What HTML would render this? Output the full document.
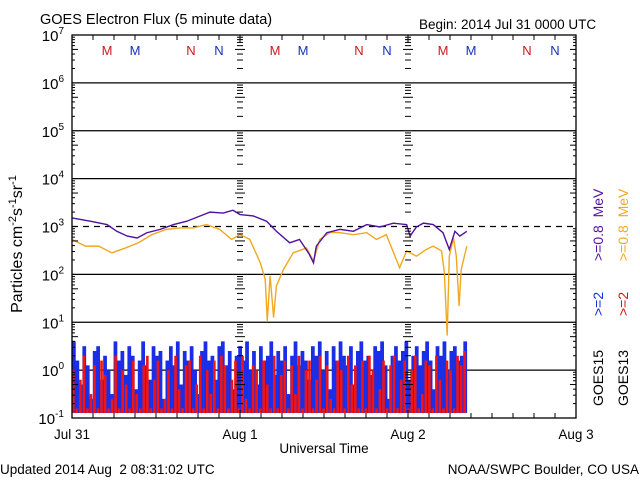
<!DOCTYPE html>
<html><head><meta charset="utf-8"><style>
html,body{margin:0;padding:0;background:#fff;}
svg{display:block;font-family:"Liberation Sans",sans-serif;}
</style></head><body>
<svg id="chart" width="640" height="480" viewBox="0 0 640 480" xmlns="http://www.w3.org/2000/svg">
<text x="40" y="24" font-size="14.5" fill="#000">GOES Electron Flux (5 minute data)</text>
<text x="419" y="29" font-size="13.5" fill="#000">Begin: 2014 Jul 31 0000 UTC</text>
<text x="0" y="474" font-size="13.5" fill="#000">Updated 2014 Aug&#160; 2 08:31:02 UTC</text>
<text x="639" y="474" font-size="13.5" text-anchor="end" fill="#000">NOAA/SWPC Boulder, CO USA</text>
<text x="324" y="453" font-size="13.5" text-anchor="middle" fill="#000">Universal Time</text>
<text transform="translate(22,244) rotate(-90)" font-size="16" text-anchor="middle" fill="#000">Particles cm<tspan dy="-6" font-size="11">-2</tspan><tspan dy="6">s</tspan><tspan dy="-6" font-size="11">-1</tspan><tspan dy="6">sr</tspan><tspan dy="-6" font-size="11">-1</tspan></text>
<g id="grid"></g>
<g id="bars"></g>
<g id="lines"></g>
<g id="axes"></g>
<g font-size="14">
<text transform="translate(603,406) rotate(-90)" fill="#000">GOES15</text>
<text transform="translate(603,316) rotate(-90)" fill="#1030e0">&gt;=2</text>
<text transform="translate(603,261) rotate(-90)" fill="#5510a0">&gt;=0.8&#160; MeV</text>
<text transform="translate(628,406) rotate(-90)" fill="#000">GOES13</text>
<text transform="translate(628,316) rotate(-90)" fill="#e01010">&gt;=2</text>
<text transform="translate(628,261) rotate(-90)" fill="#f0a820">&gt;=0.8&#160; MeV</text>
</g>
</svg>
<script>
// data (hours from Jul 31 00:00, log10 flux)
const purpleT=[0,2.6,5,6.4,7.9,9.3,10.7,12.6,14.5,16.4,18.3,19.7,21.6,23,24,25.9,27.8,29.2,31.1,32.5,33.9,34.5,34.9,36.4,38.3,40.2,42.1,44,45.9,47.8,48.3,49.2,50.2,51.6,53,53.9,54.7,55.4,56.4];
const purpleV=[3.18,3.11,3.04,2.90,2.80,2.76,2.87,2.94,3.04,3.11,3.22,3.30,3.28,3.34,3.25,3.22,3.11,2.90,2.66,2.73,2.42,2.24,2.59,2.87,2.94,2.90,3.04,2.99,3.07,3.04,2.80,2.99,3.07,3.04,2.87,2.52,2.90,2.80,2.90];
const orangeT=[0,1.9,3.8,5.7,7.6,9.5,11.4,13.5,15.4,17.3,19.2,21.1,22.8,24,25.4,26.9,27.6,27.9,28.3,28.8,29.2,30.2,31.6,33.5,34.5,35.4,36.9,38.3,40.2,42.1,43.5,44.9,46.8,47.8,49.2,50.6,51.6,52.8,53.2,53.6,53.9,54.5,54.9,55.3,55.6,56.4];
const orangeV=[2.73,2.59,2.59,2.45,2.55,2.66,2.83,2.94,2.97,2.97,3.04,2.94,2.73,2.83,2.73,2.24,1.90,1.03,1.97,1.10,1.76,2.10,2.45,2.55,2.28,2.73,2.88,2.87,2.83,2.87,2.73,2.83,2.14,2.49,2.38,2.52,2.59,2.49,2.03,0.72,2.38,2.76,2.38,1.34,2.10,2.59];
const blueV=[0.6,0.2,-0.3,0.5,0.1,-0.6,0.4,0.5,-0.2,0.3,0.0,-0.5,0.6,0.2,0.4,-0.1,0.5,0.3,-0.4,0.2,0.6,0.1,-0.2,0.5,0.3,0.4,-0.6,0.2,0.5,0.1,0.6,-0.3,0.4,0.2,0.5,0.0,-0.5,0.4,0.6,0.2,0.3,-0.2,0.5,0.6,0.1,0.4,-0.4,0.3,0.5,0.2,0.6,0.0,0.4,-0.3,0.5,0.2,0.3,0.6,-0.1,0.4,0.2,0.5,-0.5,0.3,0.6,0.1,0.4,0.2,-0.2,0.5,0.3,0.6,0.0,0.4,-0.4,0.5,0.2,0.6,0.3,0.1,0.5,-0.3,0.4,0.6,0.2,0.3,-0.1,0.5,0.4,0.6,0.1,-0.6,0.3,0.5,0.2,0.4,0.6,-0.2,0.3,0.5,0.1,0.4,0.6,0.2,-0.4,0.5,0.3,0.6,0.0,0.4,0.5,0.2,0.3,0.6];
const redV=[0.0,-0.8,-0.2,0.3,-0.8,-0.5,0.1,-0.8,0.2,-0.1,-0.8,-0.6,0.3,-0.8,0.0,-0.3,-0.8,0.2,-0.5,-0.8,0.1,0.3,-0.8,-0.2,0.2,-0.8,-0.6,0.0,-0.8,0.3,-0.4,-0.8,0.1,0.2,-0.8,-0.3,0.3,-0.8,0.0,-0.5,0.2,-0.8,0.3,0.1,-0.8,-0.2,0.2,-0.8,0.3,-0.6,-0.8,0.1,0.0,-0.8,0.2,-0.3,-0.8,0.3,-0.8,-0.1,0.2,-0.8,0.1,-0.5,0.3,-0.8,0.0,0.2,-0.8,-0.2,0.3,-0.8,0.1,-0.6,-0.8,0.2,0.0,-0.8,0.3,-0.3,0.1,-0.8,0.2,-0.8,0.3,0.0,-0.8,-0.4,0.2,-0.8,0.1,0.3,-0.8,-0.2,0.2,-0.8,0.0,0.3,-0.8,-0.5,0.2,0.1,-0.8,0.3,-0.2,-0.8,0.2,0.0,-0.8,0.3,0.1,0.4];
const yTicks=[-1,0,1,2,3,4,5,6,7];
const xLabels=["Jul 31","Aug 1","Aug 2","Aug 3"];
const markLetters=["M","M","N","N"];

const NS="http://www.w3.org/2000/svg";
const L=72,R=576,T=35,B=418;
const x=h=>L+h/72*(R-L);
const y=v=>T+(7-v)*(B-T)/8;
function mk(tag,attrs,parent){const e=document.createElementNS(NS,tag);for(const k in attrs)e.setAttribute(k,attrs[k]);parent.appendChild(e);return e;}
const grid=document.getElementById('grid'),axes=document.getElementById('axes'),bars=document.getElementById('bars'),lines=document.getElementById('lines');

yTicks.forEach(v=>{
  if(v>-1&&v<7){const g=mk('line',{x1:L,x2:R,y1:y(v),y2:y(v),stroke:'#000','stroke-width':1.3,'stroke-dasharray':v===3?'6,5':'none'},grid);
  
  }
  const t=mk('text',{x:L-8,y:y(v)+6,'font-size':15,'text-anchor':'end',fill:'#000'},axes);
  
  
  t.textContent='10';const s=mk('tspan',{dy:-7,'font-size':10},t);s.textContent=String(v);
  if(v<7){for(let m=2;m<10;m++){const yy=y(v+Math.log10(m));const len=m===5?6:3;
    mk('line',{x1:L,x2:L+len,y1:yy,y2:yy,stroke:'#000'},axes);
    mk('line',{x1:R,x2:R-len,y1:yy,y2:yy,stroke:'#000'},axes);
    for(let d=1;d<=2;d++){mk('line',{x1:x(24*d)-(m===5?5:3),x2:x(24*d)+(m===5?5:3),y1:yy,y2:yy,stroke:'#000'},axes);}
  }}
});
// bars
const bw=(x(56.4)-L)/blueV.length;
blueV.forEach((v,i)=>{const b=mk('rect',{x:L+i*bw,y:y(v),width:bw+0.3,height:413-y(v),fill:'#1a2ee8'},bars);
  
  });
const rw=(x(56.4)-L)/redV.length;
redV.forEach((v,i)=>{const b=mk('rect',{x:L+i*rw,y:y(v),width:rw*0.75,height:Math.max(0,413-y(v)),fill:'#f01414'},bars);
  
  });
// lines
const op=mk('polyline',{points:orangeT.map((t,i)=>x(t)+','+y(orangeV[i])).join(' '),fill:'none',stroke:'#f0a820','stroke-width':1.4},lines);


const pp=mk('polyline',{points:purpleT.map((t,i)=>x(t)+','+y(purpleV[i])).join(' '),fill:'none',stroke:'#5010a0','stroke-width':1.4},lines);


// frame
const fr=mk('rect',{x:L,y:T,width:R-L,height:B-T,fill:'none',stroke:'#000','stroke-width':1.3},axes);


for(let h=0;h<=72;h+=3){const len=h%24===0?8:5;
  mk('line',{x1:x(h),x2:x(h),y1:B,y2:B-len,stroke:'#000'},axes);
  mk('line',{x1:x(h),x2:x(h),y1:T,y2:T+len,stroke:'#000'},axes);}
xLabels.forEach((s,i)=>{const t=mk('text',{x:x(24*i),y:439,'font-size':13.5,'text-anchor':'middle',fill:'#000'},axes);
  
  
  t.textContent=s;
});
const offs=[5,9,17,21];
for(let d=0;d<3;d++){markLetters.forEach((s,i)=>{const t=mk('text',{x:x(24*d+offs[i]),y:55,'font-size':13,'text-anchor':'middle',fill:i%2===0?'#d01818':'#1830c0'},axes);
  
  
  t.textContent=s;});}
</script>
</body></html>
